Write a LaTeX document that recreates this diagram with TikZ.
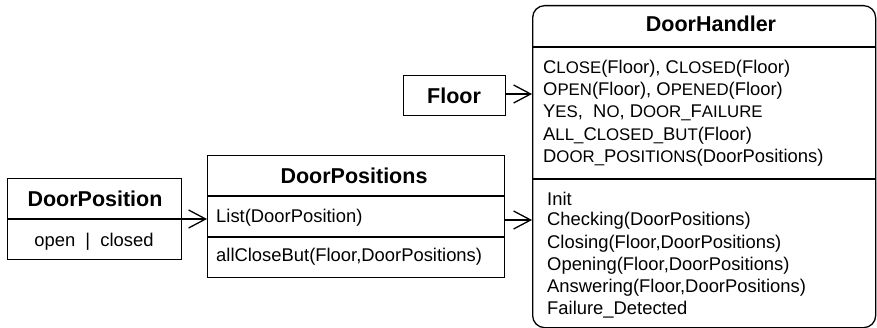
\documentclass[tikz,border=0pt]{standalone}
\usepackage{fontspec}
\setmainfont{Liberation Sans}
\usetikzlibrary{arrows.meta}
% keyword in small capitals: first letter full size, rest reduced
\newcommand\kw[2]{#1{\fontsize{16.8pt}{16.8pt}\selectfont #2}}

\begin{document}
\begin{tikzpicture}[x=1pt,y=-1pt,
  box/.style={draw, line width=1.3pt, inner sep=0pt, anchor=north west},
  rule/.style={line width=1.3pt},
  heading/.style={font=\fontsize{21.5pt}{22pt}\selectfont\bfseries, inner sep=0pt},
  entry/.style={font=\fontsize{18.4pt}{19pt}\selectfont, anchor=west, inner sep=0pt},
  link/.style={line width=1.3pt, -{Straight Barb[length=17pt,width=18pt,line width=1.3pt]}}
]
\useasboundingbox (0,0) rectangle (877,328);

% --- DoorPosition
\node[box, minimum width=174pt, minimum height=81pt] (dpos) at (7,178) {};
\draw[rule] (7,219) -- (181,219);
\node[heading] (dposT) at (95,199) {DoorPosition};
\node[entry, anchor=center] (dposV) at (94,242) {open\hspace{0.55em}|\hspace{0.55em}closed};

% --- DoorPositions
\node[box, minimum width=297pt, minimum height=122pt] (dps) at (207,155) {};
\draw[rule] (207,196) -- (504,196);
\draw[rule] (207,237) -- (504,237);
\node[heading] (dpsT) at (354,176) {DoorPositions};
\node[entry] (dpsA) at (216,218) {List(DoorPosition)};
\node[entry] (dpsB) at (216,257) {allCloseBut(Floor,DoorPositions)};

% --- Floor
\node[box, minimum width=102pt, minimum height=40pt] (fl) at (403,75) {};
\node[heading] (flT) at (454,96) {Floor};

% --- DoorHandler
\node[box, rounded corners=12pt, minimum width=343pt, minimum height=322pt] (dh) at (532,5) {};
\draw[rule] (532,47) -- (875,47);
\draw[rule] (532,179) -- (875,179);
\node[heading] (dhT) at (711,24) {DoorHandler};

\node[entry] (m1) at (543,68.5)  {\kw{C}{LOSE}(Floor), \kw{C}{LOSED}(Floor)};
\node[entry] (m2) at (543,91)  {\kw{O}{PEN}(Floor), \kw{O}{PENED}(Floor)};
\node[entry] (m3) at (543,113) {\kw{Y}{ES},\ \ \kw{N}{O}, \kw{D}{OOR\_}\kw{F}{AILURE}};
\node[entry] (m4) at (543,135.5) {\kw{A}{LL\_}\kw{C}{LOSED\_}\kw{B}{UT}(Floor)};
\node[entry] (m5) at (543,157.5) {\kw{D}{OOR\_}\kw{P}{OSITIONS}(DoorPositions)};

\node[entry] (s1) at (547,198.5) {Init};
\node[entry] (s2) at (547,221) {Checking(DoorPositions)};
\node[entry] (s3) at (547,243.5) {Closing(Floor,DoorPositions)};
\node[entry] (s4) at (547,266) {Opening(Floor,DoorPositions)};
\node[entry] (s5) at (547,288) {Answering(Floor,DoorPositions)};
\node[entry] (s6) at (547,310) {Failure\_Detected};

% --- connectors
\draw[link] (dpos.east |- 0,219) -- (dps.west |- 0,219);
\draw[link] (fl.east |- 0,94) -- (dh.west |- 0,94);
\draw[link] (dps.east |- 0,220) -- (dh.west |- 0,220);
\end{tikzpicture}
\end{document}
